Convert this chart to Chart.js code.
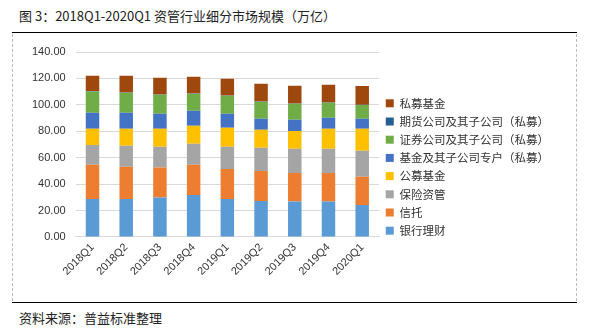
<!DOCTYPE html>
<html>
<head>
<meta charset="utf-8">
<script src="https://cdn.jsdelivr.net/npm/chart.js@4.4.0/dist/chart.umd.min.js"></script>
<style>
  body { margin: 0; background: #fff; width: 589px; height: 328px; position: relative; overflow: hidden;
         font-family: "Noto Sans CJK SC", sans-serif; }
  #title { position: absolute; left: 19px; top: 6px; font-size: 13px; color: #222; }
  #topline { position: absolute; left: 12px; top: 32px; width: 565px; height: 1px; background: #000; }
  #frame { position: absolute; left: 12px; top: 34px; width: 563px; height: 267px;
           border-left: 1px dashed #bbb; border-right: 1px dashed #bbb; }
  #bottomline { position: absolute; left: 12px; top: 302px; width: 565px; height: 1px; background: #000; }
  #source { position: absolute; left: 19px; top: 308px; font-size: 13px; color: #222; }
  #wrap { position: absolute; left: 12px; top: 34px; width: 565px; height: 267px; }
</style>
</head>
<body>
<div id="title">图 3：2018Q1-2020Q1 资管行业细分市场规模（万亿）</div>
<div id="topline"></div>
<div id="frame"></div>
<div id="wrap"><canvas id="sizeChart"></canvas></div>
<div id="bottomline"></div>
<div id="source">资料来源：普益标准整理</div>
<script>
const quarters = ['2018Q1', '2018Q2', '2018Q3', '2018Q4', '2019Q1', '2019Q2', '2019Q3', '2019Q4', '2020Q1'];

const bankWealth   = [28.8, 28.8, 29.8, 31.8, 28.8, 27.3, 26.8, 26.8, 24.3];
const trust        = [25.8, 24.3, 22.8, 22.8, 22.7, 22.7, 21.7, 21.7, 21.2];
const insurance    = [15.1, 15.9, 15.6, 15.9, 16.7, 17.5, 18.2, 18.2, 19.7];
const publicFund   = [12.2, 12.9, 13.7, 13.6, 14.4, 13.6, 13.6, 15.2, 16.7];
const fundAccounts = [12.1, 12.1, 11.3, 11.4, 10.6, 8.3, 8.4, 8.3, 7.5];
const securities   = [16.2, 15.1, 14.4, 12.9, 13.7, 12.9, 12.1, 11.4, 10.5];
const futures      = [0.2, 0.2, 0.2, 0.2, 0.2, 0.2, 0.2, 0.2, 0.2];
const privateFund  = [11.6, 12.7, 12.7, 12.7, 12.7, 13.5, 13.5, 13.4, 14.2];

const yTicks = [0, 20, 40, 60, 80, 100, 120, 140];

function drawChart() {
    const ctx = document.getElementById('sizeChart').getContext('2d');

    const data = {
        labels: quarters,
        datasets: [
            { label: '银行理财', data: bankWealth, backgroundColor: '#5B9BD5' },
            { label: '信托', data: trust, backgroundColor: '#ED7D31' },
            { label: '保险资管', data: insurance, backgroundColor: '#A5A5A5' },
            { label: '公募基金', data: publicFund, backgroundColor: '#FFC000' },
            { label: '基金及其子公司专户（私募）', data: fundAccounts, backgroundColor: '#4472C4' },
            { label: '证券公司及其子公司（私募）', data: securities, backgroundColor: '#70AD47' },
            { label: '期货公司及其子公司（私募）', data: futures, backgroundColor: '#255E91' },
            { label: '私募基金', data: privateFund, backgroundColor: '#9E480E' }
        ]
    };

    const config = {
        type: 'bar',
        data: data,
        options: {
            responsive: true,
            maintainAspectRatio: false,
            animation: false,
            layout: { padding: { left: 10, right: 18, top: 18, bottom: 19 } },
            datasets: { bar: { categoryPercentage: 1, barPercentage: 0.4 } },
            plugins: {
                tooltip: { enabled: false },
                legend: {
                    position: 'right',
                    reverse: true,
                    maxWidth: 240,
                    labels: {
                        boxWidth: 8,
                        boxHeight: 8,
                        padding: 6.7,
                        color: '#333',
                        font: { family: 'Noto Sans CJK SC', size: 11.5 }
                    }
                }
            },
            scales: {
                x: {
                    stacked: true,
                    grid: { display: false, drawTicks: false },
                    border: { color: '#D9D9D9' },
                    ticks: {
                        color: '#333',
                        minRotation: 45,
                        maxRotation: 45,
                        padding: 4,
                        font: { family: 'Liberation Sans', size: 11 }
                    }
                },
                y: {
                    stacked: true,
                    min: 0,
                    max: 140,
                    afterBuildTicks: (axis) => { axis.ticks = yTicks.map(v => ({ value: v })); },
                    grid: { color: '#D9D9D9', drawTicks: false },
                    border: { display: false },
                    ticks: {
                        color: '#333',
                        padding: 10,
                        font: { family: 'Liberation Sans', size: 11 },
                        callback: (v) => Number(v).toFixed(2)
                    }
                }
            }
        }
    };

    return new Chart(ctx, config);
}

document.fonts.load('12px "Noto Sans CJK SC"', '私募基金（）').then(drawChart, drawChart);
</script>
</body>
</html>
